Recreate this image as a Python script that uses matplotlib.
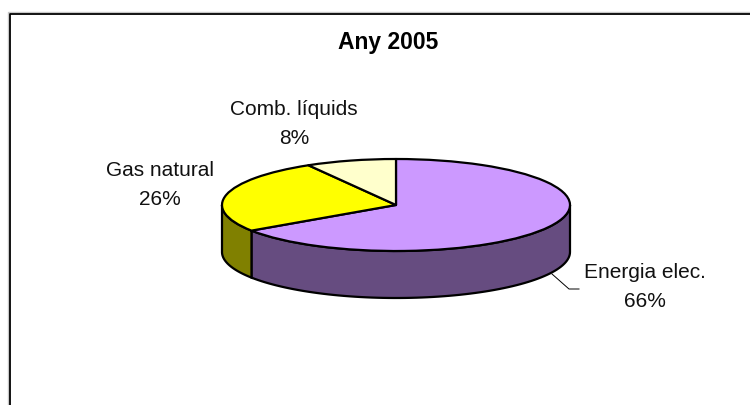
import numpy as np
import matplotlib
matplotlib.use("Agg")
import matplotlib.pyplot as plt
from matplotlib.lines import Line2D

plt.rcParams['font.family'] = ['Liberation Sans', 'DejaVu Sans']

title = "Any 2005"
categories = ["Energia elec.", "Gas natural", "Comb. líquids"]
values = [65.6, 26.0, 8.4]
top_colors = ["#CC99FF", "#FFFF00", "#FFFFCC"]
side_colors = ["#664C80", "#808000", "#808066"]

W, H = 750, 405
cx, cy, rx, ry, depth = 396, 205, 174, 46, 47

fig = plt.figure(figsize=(W / 100, H / 100), dpi=100)
ax = fig.add_axes([0, 0, 1, 1])
ax.pie(values, colors=top_colors, startangle=90, counterclock=False, radius=1,
       wedgeprops=dict(edgecolor="black", linewidth=1.6, joinstyle="round", zorder=3))
ax.set_aspect("auto")
ax.set_xlim(-cx / rx, (W - cx) / rx)
ax.set_ylim(-(H - cy) / ry, cy / ry)
d = depth / ry

# side walls of the extruded pie
edges = 90 - 360 * np.cumsum([0] + values) / sum(values)
for a0, a1, col in zip(edges[:-1], edges[1:], side_colors):
    lo = max(a1, -180)
    hi = min(a0, 0)
    if lo >= hi:
        continue
    t = np.radians(np.linspace(hi, lo, 80))
    xs = np.r_[np.cos(t), np.cos(t[::-1])]
    ys = np.r_[np.sin(t), np.sin(t[::-1]) - d]
    ax.fill(xs, ys, facecolor=col, edgecolor="black", linewidth=1.6, zorder=2)

def px(x, y):
    return (x - cx) / rx, (cy - y) / ry

# chart area border: soft grey edge, then black line; open on the right and bottom
for off, col, lw in [(-1.2, "#C8C8C8", 1.0), (0, "black", 1.3)]:
    fig.add_artist(Line2D([(9.6 + off) / W, (9.6 + off) / W, 1],
                          [0, 1 - (13.6 + off) / H, 1 - (13.6 + off) / H],
                          color=col, linewidth=lw))

fig.text(388.5 / W, 1 - 42 / H, title, ha="center", va="center", fontsize=16.5, fontweight="bold")

label_pos = [(645, 287), (160, 185), (294, 124)]
for name, v, (lx, ly) in zip(categories, values, label_pos):
    fig.text(lx / W, 1 - ly / H, f"{name}\n{v:.0f}%", ha="center", va="center",
             fontsize=15, linespacing=1.72, color="#111111")

# leader line for the first label
ax.plot(*zip(px(552, 274), px(569, 289), px(579, 289)), color="black", linewidth=0.7, zorder=4)

fig.savefig("out.png", dpi=100, facecolor="white")
